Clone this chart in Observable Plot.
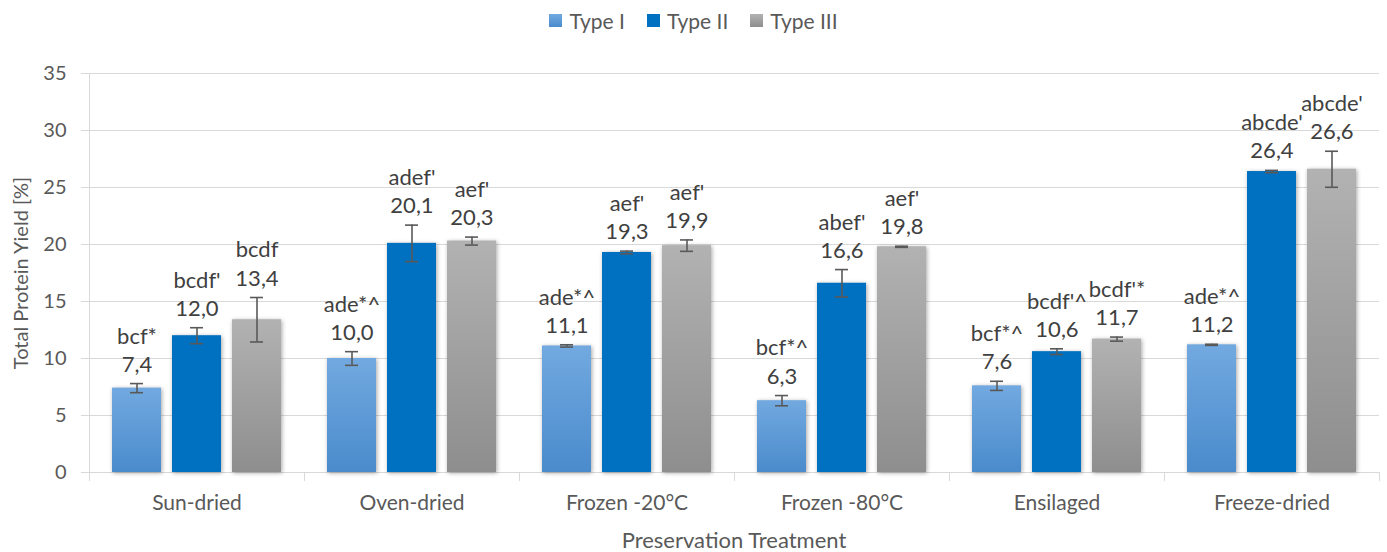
<!DOCTYPE html>
<html><head><meta charset="utf-8">
<script src="https://cdn.jsdelivr.net/npm/d3@7"></script>
<script src="https://cdn.jsdelivr.net/npm/@observablehq/plot@0.6"></script>
<style>
body{margin:0;background:#fff;font-family:Lato,sans-serif;}
#legend{height:40px;display:flex;justify-content:center;align-items:center;gap:22px;font-size:21px;color:#595959;}
.item{display:flex;align-items:center;gap:7px}
.sw{width:13px;height:13px;display:inline-block}
#xtitle{position:absolute;left:89px;width:1290px;top:526px;text-align:center;font-size:22px;color:#595959;line-height:28px}
</style></head><body>
<svg width="0" height="0" style="position:absolute"><defs>
<linearGradient id="gI" x1="0" y1="0" x2="0" y2="1"><stop offset="0" stop-color="#72a9e0"/><stop offset="1" stop-color="#4a8bcc"/></linearGradient>
<linearGradient id="gIII" x1="0" y1="0" x2="0" y2="1"><stop offset="0" stop-color="#b2b2b2"/><stop offset="1" stop-color="#8e8e8e"/></linearGradient>
</defs></svg>
<div id="legend"></div>
<div id="chart"></div>
<div id="xtitle">Preservation Treatment</div>
<script>
const categories = ["Sun-dried","Oven-dried","Frozen -20°C","Frozen -80°C","Ensilaged","Freeze-dried"];
const types = ["Type I","Type II","Type III"];
const typeI = [7.4,10.0,11.1,6.3,7.6,11.2];
const typeII = [12.0,20.1,19.3,16.6,10.6,26.4];
const typeIII = [13.4,20.3,19.9,19.8,11.7,26.6];
const errI = [0.4,0.6,0.1,0.45,0.4,0.05];
const errII = [0.7,1.6,0.12,1.2,0.25,0.1];
const errIII = [1.95,0.35,0.5,0.05,0.18,1.58];
const sigI = ["bcf*","ade*^","ade*^","bcf*^","bcf*^","ade*^"];
const sigII = ["bcdf'","adef'","aef'","abef'","bcdf'^","abcde'"];
const sigIII = ["bcdf","aef'","aef'","aef'","bcdf'*","abcde'"];
const yTicks = [0,5,10,15,20,25,30,35];

const fills = ["url(#gI)","#0070c0","url(#gIII)"];
const swatches = ["linear-gradient(#72a9e0,#4a8bcc)","#0070c0","linear-gradient(#b2b2b2,#8e8e8e)"];

const series = [[typeI,errI,sigI],[typeII,errII,sigII],[typeIII,errIII,sigIII]];
const rows = [];
categories.forEach((c,i)=>{
  types.forEach((t,j)=>{
    const [v,e,s] = series[j];
    rows.push({cat:c,type:t,v:v[i],e:e[i],sig:s[i]});
  });
});
const fmt = v => v.toFixed(1).replace(".", ",");

const legend = document.getElementById("legend");
types.forEach((t,j)=>{
  const it = document.createElement("div"); it.className="item";
  it.innerHTML = `<span class="sw" style="background:${swatches[j]}"></span><span>${t}</span>`;
  legend.appendChild(it);
});

const chart = Plot.plot({
  width:1387, height:480,
  marginLeft:89, marginRight:8, marginTop:33, marginBottom:48,
  style:{fontFamily:"Lato, sans-serif", fontSize:"20px", color:"#595959", background:"#fff"},
  facet:{data:rows, x:"cat"},
  fx:{domain:categories, padding:0, label:null},
  x:{domain:types, paddingInner:0.18, paddingOuter:0.37, axis:null},
  y:{domain:[0,35], axis:null},
  color:{domain:types, range:fills},
  marks:[
    Plot.gridY(yTicks,{stroke:"#d9d9d9", strokeOpacity:1}),
    Plot.frame({anchor:"left", stroke:"#d9d9d9", insetBottom:-8, facetAnchor:"left"}),
    Plot.frame({anchor:"left", stroke:"#d9d9d9", insetTop:399, insetBottom:-8}),
    Plot.frame({anchor:"right", stroke:"#d9d9d9", insetTop:399, insetBottom:-8}),
    Plot.axisY({ticks:yTicks, tickSize:8, tickPadding:15, stroke:"#d9d9d9", fill:"#595959", fontSize:20, label:"Total Protein Yield [%]", labelAnchor:"center", labelArrow:"none", labelOffset:76}),
    Plot.axisFx({anchor:"bottom", tickSize:0, tickPadding:23, fill:"#595959", fontSize:21, label:null}),
    Plot.barY(rows,{x:"type", y:"v", fill:"type"}),
    Plot.ruleX(rows,{x:"type", y1:d=>d.v-d.e, y2:d=>d.v+d.e, stroke:"#595959", strokeWidth:1.6}),
    Plot.tickY(rows,{x:"type", y:d=>d.v-d.e, stroke:"#595959", strokeWidth:1.6, insetLeft:18, insetRight:18}),
    Plot.tickY(rows,{x:"type", y:d=>d.v+d.e, stroke:"#595959", strokeWidth:1.6, insetLeft:18, insetRight:18}),
    Plot.text(rows,{x:"type", y:d=>d.v+d.e, text:d=>d.sig+"\n"+fmt(d.v), lineAnchor:"middle", lineHeight:1.28, dy:-35, fontSize:22, fill:"#404040"})
  ]
});
document.getElementById("chart").appendChild(chart);
d3.select(chart).selectAll("g[aria-label=bar] rect").style("filter","drop-shadow(1px 1px 2px rgba(0,0,0,0.35))");
</script>
</body></html>
